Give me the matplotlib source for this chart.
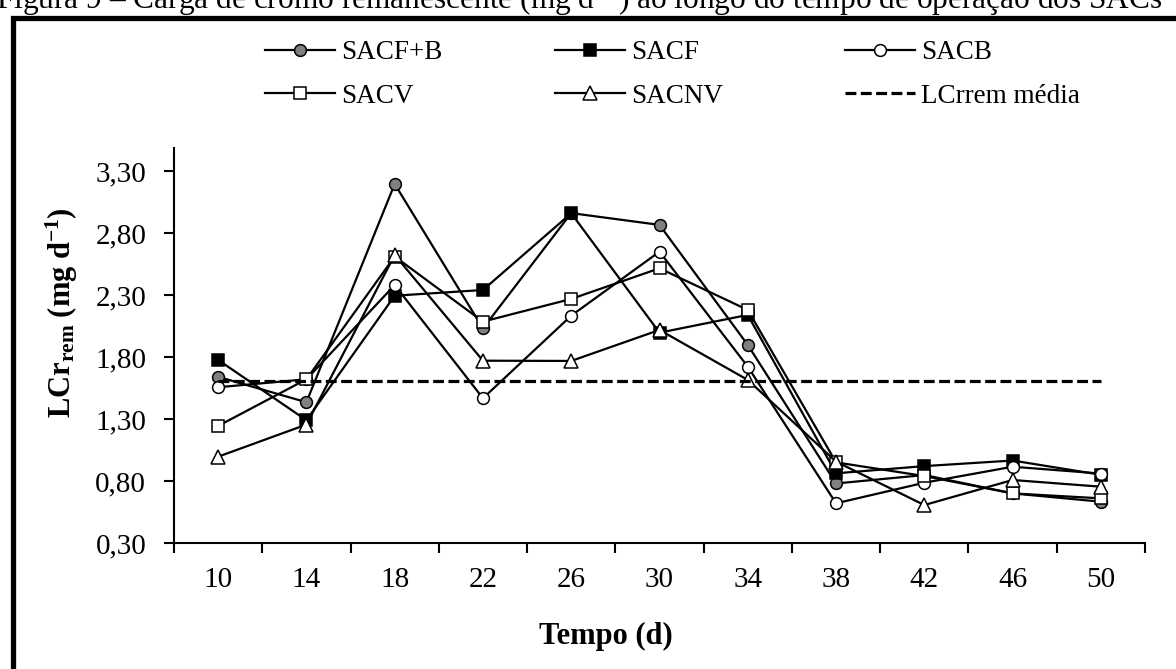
import matplotlib
matplotlib.use("Agg")
import matplotlib.pyplot as plt
from matplotlib.patches import Rectangle

plt.rcParams['font.family'] = ['Liberation Serif', 'DejaVu Serif']
plt.rcParams['mathtext.fontset'] = 'custom'
plt.rcParams['mathtext.rm'] = 'Liberation Serif'
plt.rcParams['mathtext.bf'] = 'Liberation Serif:bold'
plt.rcParams['mathtext.it'] = 'Liberation Serif:italic'

# data
tempo = [10, 14, 18, 22, 26, 30, 34, 38, 42, 46, 50]
sacf_b = [1.64, 1.435, 3.195, 2.03, 2.96, 2.865, 1.897, 0.78, 0.848, 0.70, 0.633]
sacf = [1.776, 1.29, 2.294, 2.34, 2.959, 1.996, 2.139, 0.862, 0.92, 0.965, 0.85]
sacb = [1.556, 1.62, 2.38, 1.467, 2.133, 2.649, 1.722, 0.62, 0.786, 0.915, 0.86]
sacv = [1.244, 1.62, 2.61, 2.085, 2.268, 2.515, 2.179, 0.95, 0.84, 0.70, 0.66]
sacnv = [0.996, 1.255, 2.623, 1.77, 1.768, 2.018, 1.615, 0.956, 0.606, 0.808, 0.754]
lcr_media = 1.61
yticks = [0.3, 0.8, 1.3, 1.8, 2.3, 2.8, 3.3]

W, H = 1176, 669
fig = plt.figure(figsize=(W / 100, H / 100), dpi=100)
ax = fig.add_axes([174 / W, 1 - 543 / H, (1145 - 174) / W, (543 - 148) / H])

x = list(range(len(tempo)))
lw = 1.6
ms = 8.5
mew = 1.1
series = [
    (sacf_b, 'o', '#808080', 'SACF+B'),
    (sacf, 's', 'black', 'SACF'),
    (sacb, 'o', 'white', 'SACB'),
    (sacv, 's', 'white', 'SACV'),
    (sacnv, '^', 'white', 'SACNV'),
]
lines = []
for vals, mk, fc, lab in series:
    ln, = ax.plot(x, vals, color='black', lw=lw, marker=mk, ms=ms if mk != '^' else ms + 1,
                  mfc=fc, mec='black', mew=mew, label=lab)
    lines.append(ln)
ln, = ax.plot(x, [lcr_media] * len(x), color='black', lw=2.3,
              linestyle=(0, (3.4, 1.4)), label='LCrrem média')
lines.append(ln)

ax.set_xlim(-0.5, len(x) - 0.5)
ax.set_ylim(0.3, 3.485)
ax.set_yticks(yticks)
ax.set_yticklabels([f'{v:.2f}'.replace('.', ',') for v in yticks])
ax.set_xticks([i - 0.5 for i in range(len(x) + 1)])
ax.set_xticklabels([])
ax.set_xticks(x, minor=True)
ax.set_xticklabels([str(t) for t in tempo], minor=True)
ax.tick_params(axis='x', which='major', direction='out', length=7, width=1.5)
ax.tick_params(axis='x', which='minor', length=0, pad=17, labelsize=21)
ax.tick_params(axis='y', direction='out', length=7, width=1.5, pad=13, labelsize=21)
for s in ['top', 'right']:
    ax.spines[s].set_visible(False)
for s in ['left', 'bottom']:
    ax.spines[s].set_linewidth(1.5)

fig.text(62 / W, 1 - 313 / H, r'$\mathbf{LCr_{rem}\ (mg\ d^{-1})}$', rotation=90,
         ha='center', va='center', fontsize=22)
fig.text(606 / W, 1 - 636 / H, 'Tempo (d)', fontweight='bold',
         ha='center', va='center', fontsize=22)

# legend: three columns, two rows
col_x = [265, 555, 845]
for i, cx in enumerate(col_x):
    hs = [lines[i], lines[i + 3]]
    fig.legend(handles=hs, labels=[h.get_label() for h in hs], loc='upper left',
               bbox_to_anchor=(cx / W, 1 - 40 / H), frameon=False, fontsize=19.5,
               handlelength=2.6, handletextpad=0.2, labelspacing=0.7,
               borderpad=0, borderaxespad=0)

# partially cropped caption and frame
fig.text(-4 / W, 1 - 9 / H, 'Figura 9 – Carga de cromo remanescente (mg d$^{-1}$) '
         'ao longo do tempo de operação dos SACs', ha='left', va='baseline', fontsize=22.6)
fig.patches.append(Rectangle((12.5 / W, -0.1), 1.2, 1 - 18 / H + 0.1, transform=fig.transFigure,
                             fill=False, ec='black', lw=3.8))

fig.savefig('out.png', dpi=100)
